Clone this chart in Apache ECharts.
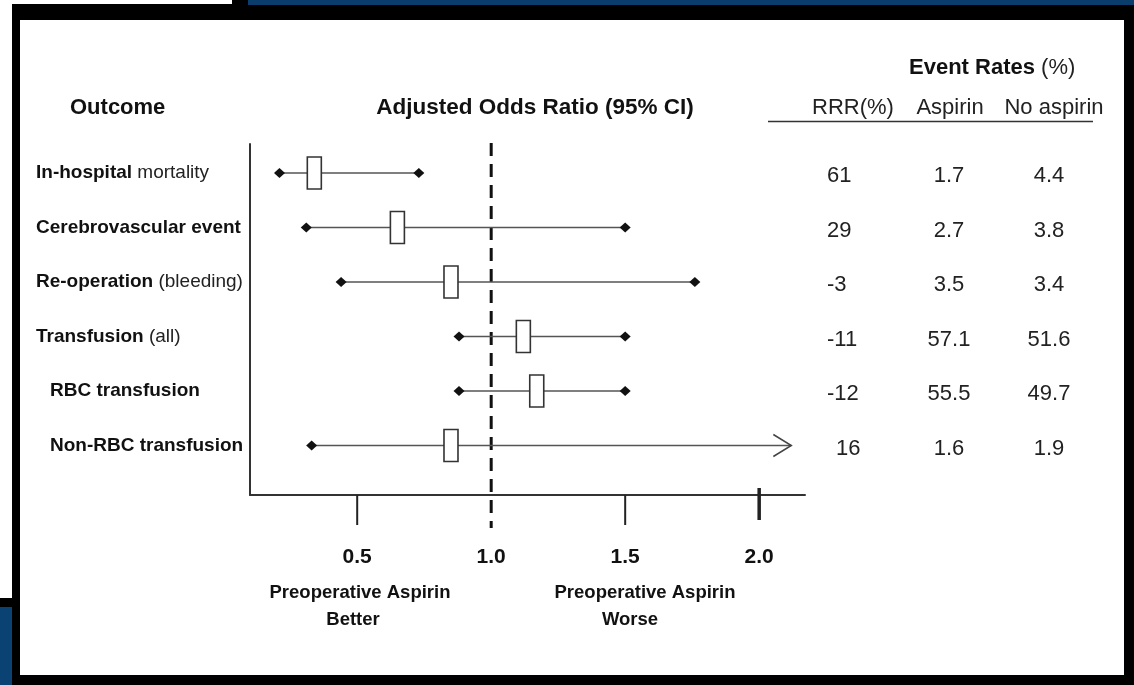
<!DOCTYPE html>
<html><head><meta charset="utf-8">
<script src="https://cdn.jsdelivr.net/npm/echarts@6/dist/echarts.min.js"></script>
<style>html,body{margin:0;padding:0;background:#000}#c{width:1134px;height:685px}</style>
</head><body><div id="c"></div>
<script>
// ---- data ----
const outcomeBold   = ['In-hospital', 'Cerebrovascular event', 'Re-operation', 'Transfusion', 'RBC transfusion', 'Non-RBC transfusion'];
const outcomeRest   = [' mortality', '', ' (bleeding)', ' (all)', '', ''];
const outcomeLevel  = [0, 0, 0, 0, 1, 1];
const orLow   = [0.21, 0.31, 0.44, 0.88, 0.88, 0.33];
const orPoint = [0.34, 0.65, 0.85, 1.12, 1.17, 0.85];
const orHigh  = [0.73, 1.50, 1.76, 1.50, 1.50, 2.12];
const ciOpen  = [false, false, false, false, false, true];
const rrr           = ['61', '29', '-3', '-11', '-12', '16'];
const rateAspirin   = ['1.7', '2.7', '3.5', '57.1', '55.5', '1.6'];
const rateNoAspirin = ['4.4', '3.8', '3.4', '51.6', '49.7', '1.9'];
const tickValues = [0.5, 1.0, 1.5, 2.0];
const tickLabels = ['0.5', '1.0', '1.5', '2.0'];
const refValue = 1.0;

const FONT = '"Liberation Sans", Arial, Helvetica, sans-serif';
const chart = echarts.init(document.getElementById('c'));

const rows = outcomeBold.map((_, i) => [i, orLow[i], orPoint[i], orHigh[i], ciOpen[i] ? 1 : 0]);

function csBottom(params) { return params.coordSys.y + params.coordSys.height; }

const option = {
  backgroundColor: '#000',
  animation: false,
  grid: { left: 250, top: 144, width: 555, height: 351 },
  xAxis: {
    type: 'value', min: 0.1, max: 2.171,
    axisLine: { show: true, onZero: false, lineStyle: { color: '#333', width: 2 } },
    axisTick: { show: false }, splitLine: { show: false }, axisLabel: { show: false }
  },
  yAxis: {
    type: 'value', inverse: true, min: -0.532, max: 5.908,
    axisLine: { show: true, onZero: false, lineStyle: { color: '#333', width: 2 } },
    axisTick: { show: false }, splitLine: { show: false }, axisLabel: { show: false }
  },
  graphic: [
    { type: 'rect', z: -10, shape: { x: 0, y: 0, width: 232, height: 4 }, style: { fill: '#fff' } },
    { type: 'rect', z: -10, shape: { x: 248, y: 0, width: 886, height: 5 }, style: { fill: '#0a3d6c' } },
    { type: 'rect', z: -10, shape: { x: 0, y: 4, width: 12, height: 594 }, style: { fill: '#fff' } },
    { type: 'rect', z: -10, shape: { x: 0, y: 607, width: 12, height: 78 }, style: { fill: '#0a4373' } },
    { type: 'rect', z: -10, shape: { x: 20, y: 20, width: 1104, height: 655 }, style: { fill: '#fff' } },
    { type: 'text', x: 70, y: 108, style: { text: 'Outcome', font: 'bold 22px ' + FONT, fill: '#111', verticalAlign: 'middle' } },
    { type: 'text', x: 535, y: 108, style: { text: 'Adjusted Odds Ratio (95% CI)', font: 'bold 22.5px ' + FONT, fill: '#111', align: 'center', verticalAlign: 'middle' } },
    { type: 'text', x: 909, y: 68, style: { text: '{b|Event Rates }{r|(%)}', fill: '#111', verticalAlign: 'middle',
        rich: { b: { fontFamily: FONT, fontSize: 22, fontWeight: 'bold', fill: '#111' }, r: { fontFamily: FONT, fontSize: 22, fill: '#222' } } } },
    { type: 'text', x: 853, y: 108, style: { text: 'RRR(%)', font: '22px ' + FONT, fill: '#222', align: 'center', verticalAlign: 'middle' } },
    { type: 'text', x: 950, y: 108, style: { text: 'Aspirin', font: '22px ' + FONT, fill: '#222', align: 'center', verticalAlign: 'middle' } },
    { type: 'text', x: 1054, y: 108, style: { text: 'No aspirin', font: '22px ' + FONT, fill: '#222', align: 'center', verticalAlign: 'middle' } },
    { type: 'line', shape: { x1: 768, y1: 121.5, x2: 1093, y2: 121.5 }, style: { stroke: '#333', lineWidth: 1.5 } },
    { type: 'text', x: 360, y: 593, style: { text: 'Preoperative Aspirin', font: 'bold 18.5px ' + FONT, fill: '#111', align: 'center', verticalAlign: 'middle' } },
    { type: 'text', x: 353, y: 620, style: { text: 'Better', font: 'bold 18.5px ' + FONT, fill: '#111', align: 'center', verticalAlign: 'middle' } },
    { type: 'text', x: 645, y: 593, style: { text: 'Preoperative Aspirin', font: 'bold 18.5px ' + FONT, fill: '#111', align: 'center', verticalAlign: 'middle' } },
    { type: 'text', x: 630, y: 620, style: { text: 'Worse', font: 'bold 18.5px ' + FONT, fill: '#111', align: 'center', verticalAlign: 'middle' } }
  ],
  series: [
    { // reference line at OR = 1
      type: 'custom', clip: false, z: 3, data: [[refValue]],
      renderItem(params, api) {
        const x = api.coord([api.value(0), 0])[0];
        return { type: 'line', shape: { x1: x, y1: params.coordSys.y - 1, x2: x, y2: csBottom(params) + 33 },
          style: { stroke: '#111', lineWidth: 3, lineDash: [13, 8] } };
      }
    },
    { // axis ticks and labels
      type: 'custom', clip: false, z: 3, data: tickValues.map((v, i) => [v, i]),
      renderItem(params, api) {
        const v = api.value(0), i = api.value(1);
        const x = api.coord([v, 0])[0];
        const yb = csBottom(params);
        const children = [];
        if (v !== refValue) {
          const last = i === tickValues.length - 1;
          children.push({ type: 'line', shape: { x1: x, y1: last ? yb - 7 : yb, x2: x, y2: last ? yb + 25 : yb + 30 },
            style: { stroke: '#222', lineWidth: last ? 3.5 : 2 } });
        }
        children.push({ type: 'text', x: x, y: yb + 62, style: { text: tickLabels[i], font: 'bold 21px ' + FONT, fill: '#111', align: 'center', verticalAlign: 'middle' } });
        return { type: 'group', children };
      }
    },
    { // forest marks
      type: 'custom', clip: false, z: 5, data: rows,
      renderItem(params, api) {
        const i = api.value(0);
        const pL = api.coord([api.value(1), i]);
        const pP = api.coord([api.value(2), i]);
        const pH = api.coord([api.value(3), i]);
        const open = api.value(4) === 1;
        const y = pL[1];
        const dia = (x) => ({ type: 'polygon', shape: { points: [[x - 5.5, y], [x, y - 5], [x + 5.5, y], [x, y + 5]] }, style: { fill: '#111' } });
        const children = [
          { type: 'line', shape: { x1: pL[0], y1: y, x2: pH[0], y2: y }, style: { stroke: '#555', lineWidth: 1.6 } },
          dia(pL[0])
        ];
        if (open) {
          children.push({ type: 'polyline', shape: { points: [[pH[0] - 18, y - 11], [pH[0], y], [pH[0] - 18, y + 11]] }, style: { stroke: '#444', lineWidth: 1.5, fill: null } });
        } else {
          children.push(dia(pH[0]));
        }
        children.push({ type: 'rect', shape: { x: pP[0] - 7, y: y - 16, width: 14, height: 32 }, style: { fill: '#fff', stroke: '#333', lineWidth: 1.6 } });
        return { type: 'group', children };
      }
    },
    { // row labels and table values
      type: 'custom', clip: false, z: 5, data: rows.map(r => [r[0]]),
      renderItem(params, api) {
        const i = api.value(0);
        const y = api.coord([1, i])[1];
        const rich = { b: { fontFamily: FONT, fontSize: 19, fontWeight: 'bold', fill: '#111' }, r: { fontFamily: FONT, fontSize: 19, fill: '#222' } };
        const label = '{b|' + outcomeBold[i] + '}' + (outcomeRest[i] ? '{r|' + outcomeRest[i] + '}' : '');
        const num = (x, t, align) => ({ type: 'text', x: x, y: y + 3, style: { text: t, font: '22px ' + FONT, fill: '#222', align: align, verticalAlign: 'middle' } });
        return { type: 'group', children: [
          { type: 'text', x: outcomeLevel[i] ? 50 : 36, y: y, style: { text: label, rich: rich, verticalAlign: 'middle' } },
          num(i === 5 ? 836 : 827, rrr[i], 'left'),
          num(949, rateAspirin[i], 'center'),
          num(1049, rateNoAspirin[i], 'center')
        ] };
      }
    }
  ]
};
chart.setOption(option);
</script>
</body></html>
